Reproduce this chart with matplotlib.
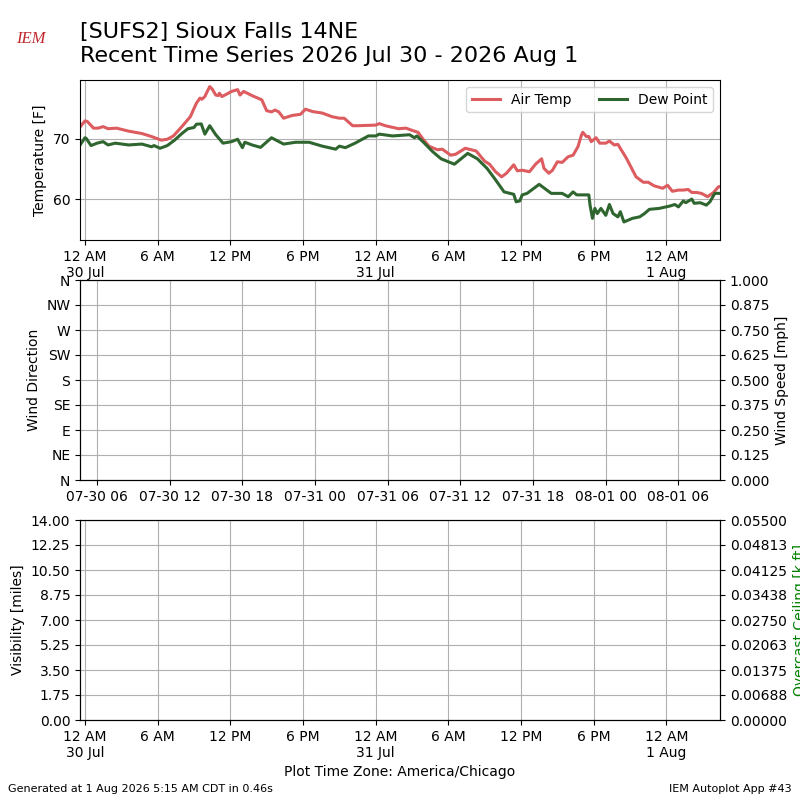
"""
Recent time series plot for station SUFS2 (Sioux Falls 14NE).
Three panels: temperature / dew point, wind, visibility + ceiling.
"""

import datetime
import matplotlib
matplotlib.use("Agg")
import matplotlib.pyplot as plt
import matplotlib.dates as mdates
from matplotlib.ticker import FuncFormatter, FormatStrFormatter

# Observations, hours since 2026-07-30 00:00 local time
air_hours = [-0.4, 0.0, 0.2, 0.7, 1.1, 1.5, 1.9, 2.6, 3.6, 4.7, 5.5, 6.3, 6.8,
             7.3, 8.0, 8.7, 9.2, 9.5, 9.65, 9.9, 10.1, 10.3, 10.5, 10.8, 11.0,
             11.1, 11.3, 11.7, 12.1, 12.6, 12.8, 13.1, 13.8, 14.6, 15.0, 15.4,
             15.7, 16.0, 16.4, 17.1, 17.8, 18.2, 18.8, 19.6, 20.4, 21.0, 21.4,
             22.1, 22.5, 24.0, 24.3, 24.8, 25.9, 26.5, 26.9, 27.5, 27.9, 28.4,
             29.1, 29.5, 30.2, 30.6, 31.4, 32.3, 33.0, 33.4, 33.9, 34.4, 34.8,
             35.4, 35.7, 36.1, 36.7, 37.2, 37.7, 37.9, 38.3, 38.6, 39.0, 39.4,
             39.9, 40.3, 40.7, 41.0, 41.1, 41.4, 41.6, 41.8, 42.2, 42.5, 43.0,
             43.3, 43.7, 44.0, 44.7, 45.5, 46.1, 46.5, 47.0, 47.7, 48.1, 48.5,
             49.0, 49.4, 49.8, 50.1, 50.5, 50.9, 51.4, 51.9, 52.3, 52.5]
air_temp = [72.0, 73.0, 72.9, 71.8, 71.8, 72.05, 71.7, 71.8, 71.3, 70.9, 70.4,
            69.8, 69.95, 70.5, 72.05, 73.7, 75.95, 76.8, 76.6, 77.05, 77.9,
            78.7, 78.3, 77.3, 77.2, 77.6, 77.05, 77.45, 77.9, 78.2, 77.3, 77.9,
            77.2, 76.5, 74.7, 74.5, 74.8, 74.5, 73.45, 73.9, 74.1, 74.95, 74.55,
            74.3, 73.7, 73.45, 73.45, 72.2, 72.2, 72.3, 72.55, 72.2, 71.7, 71.8,
            71.5, 71.1, 70.0, 68.8, 68.2, 68.3, 67.3, 67.45, 68.45, 68.0, 66.3,
            65.8, 64.55, 63.7, 64.3, 65.7, 64.7, 64.8, 64.55, 65.8, 66.7, 65.1,
            64.3, 64.8, 66.2, 66.1, 67.05, 67.3, 68.7, 70.7, 71.1, 70.4, 70.4,
            69.55, 70.2, 69.3, 69.3, 69.65, 69.0, 69.1, 66.8, 63.7, 62.8, 62.8,
            62.2, 61.8, 62.3, 61.3, 61.5, 61.5, 61.6, 61.1, 61.1, 60.95, 60.4,
            61.1, 62.05, 62.1]

dew_hours = [-0.4, 0.0, 0.1, 0.5, 1.0, 1.5, 1.9, 2.5, 3.6, 4.7, 5.5, 5.7, 6.2,
             6.8, 7.4, 8.0, 8.5, 9.0, 9.2, 9.6, 9.9, 10.3, 10.8, 11.4, 12.1,
             12.6, 13.0, 13.2, 13.8, 14.5, 15.4, 16.4, 17.4, 18.5, 19.6, 20.7,
             21.0, 21.5, 22.3, 23.4, 24.0, 24.3, 25.4, 26.8, 27.2, 27.4, 27.9,
             28.7, 29.4, 30.5, 31.6, 32.4, 33.2, 33.9, 34.6, 35.4, 35.6, 35.9,
             36.1, 36.5, 37.5, 38.5, 39.4, 39.9, 40.3, 40.6, 41.6, 41.7, 41.9,
             42.1, 42.3, 42.6, 43.0, 43.3, 43.6, 44.0, 44.2, 44.5, 45.2, 45.8,
             46.2, 46.6, 47.4, 48.3, 48.7, 49.0, 49.4, 49.6, 50.1, 50.3, 50.8,
             51.3, 51.6, 52.0, 52.5]
dew_point = [69.0, 70.2, 70.1, 68.9, 69.3, 69.55, 69.0, 69.3, 69.0, 69.15,
             68.7, 68.9, 68.45, 68.9, 69.8, 70.9, 71.7, 71.9, 72.45, 72.5, 70.8,
             72.2, 70.7, 69.3, 69.55, 69.95, 68.55, 69.45, 69.0, 68.6, 70.2,
             69.15, 69.45, 69.45, 68.8, 68.3, 68.8, 68.55, 69.3, 70.5, 70.5,
             70.8, 70.5, 70.7, 70.2, 70.5, 69.55, 67.9, 66.7, 65.8, 67.6, 66.7,
             65.1, 63.2, 61.2, 60.8, 59.55, 59.7, 60.7, 60.95, 62.45, 60.95,
             60.95, 60.4, 61.2, 60.7, 60.7, 59.0, 56.8, 58.45, 57.6, 58.45, 57.3,
             59.1, 57.6, 57.05, 57.9, 56.2, 56.8, 57.05, 57.6, 58.3, 58.45,
             58.85, 59.1, 58.7, 59.7, 59.4, 60.0, 59.3, 59.4, 59.0, 59.55, 60.95,
             60.95]

dir_labels = ["N", "NE", "E", "SE", "S", "SW", "W", "NW", "N"]

base = datetime.datetime(2026, 7, 30)
utc_offset = datetime.timedelta(hours=5)
xmin = base + datetime.timedelta(hours=-0.41)
xmax = base + datetime.timedelta(hours=52.43)

air_times = [base + datetime.timedelta(hours=h) for h in air_hours]
dew_times = [base + datetime.timedelta(hours=h) for h in dew_hours]


def local_fmt(x, pos=None):
    dt = mdates.num2date(x)
    if dt.hour == 0:
        return dt.strftime("%-I %p\n%-d %b")
    return dt.strftime("%-I %p")


fig = plt.figure(figsize=(8, 8), dpi=100)

fig.text(0.1, 0.918, "[SUFS2] Sioux Falls 14NE\nRecent Time Series 2026 Jul 30 - 2026 Aug 1",
         fontsize=16, va="bottom", ha="left")
fig.text(0.039, 0.951, "IEM", color="#c0282d", fontsize=12, style="italic",
         family="Liberation Serif", ha="center", va="center")
fig.text(0.01, 0.01, "Generated at 1 Aug 2026 5:15 AM CDT in 0.46s", fontsize=8)
fig.text(0.99, 0.01, "IEM Autoplot App #43", fontsize=8, ha="right")

# Panel 1: temperature
ax1 = fig.add_axes([0.1, 0.7, 0.8, 0.2])
ax1.plot(air_times, air_temp, color="#dc5c60", lw=2.2, label="Air Temp")
ax1.plot(dew_times, dew_point, color="#2f6630", lw=2.2, label="Dew Point")
ax1.set_ylabel("Temperature [F]")
ax1.set_ylim(53.2, 79.8)
ax1.set_xlim(xmin, xmax)
ax1.xaxis.set_major_locator(mdates.HourLocator(byhour=[0, 6, 12, 18]))
ax1.xaxis.set_major_formatter(FuncFormatter(local_fmt))
ax1.grid(True)
ax1.legend(loc="upper right", ncol=2)

# Panel 2: wind (no observations)
ax2 = fig.add_axes([0.1, 0.4, 0.8, 0.25])
ax2.set_xlim(xmin + utc_offset, xmax + utc_offset)
ax2.xaxis.set_major_locator(mdates.HourLocator(byhour=[0, 6, 12, 18]))
ax2.xaxis.set_major_formatter(mdates.DateFormatter("%m-%d %H"))
ax2.set_ylim(0, 360)
ax2.set_yticks(range(0, 361, 45))
ax2.set_yticklabels(dir_labels)
ax2.set_ylabel("Wind Direction")
ax2.grid(True)
ax2b = ax2.twinx()
ax2b.set_ylim(0, 1)
ax2b.set_yticks([i * 0.125 for i in range(9)])
ax2b.yaxis.set_major_formatter(FormatStrFormatter("%.3f"))
ax2b.set_ylabel("Wind Speed [mph]")

# Panel 3: visibility / ceiling (no observations)
ax3 = fig.add_axes([0.1, 0.1, 0.8, 0.25])
ax3.set_xlim(xmin, xmax)
ax3.xaxis.set_major_locator(mdates.HourLocator(byhour=[0, 6, 12, 18]))
ax3.xaxis.set_major_formatter(FuncFormatter(local_fmt))
ax3.set_ylim(0, 14)
ax3.set_yticks([i * 1.75 for i in range(9)])
ax3.yaxis.set_major_formatter(FormatStrFormatter("%.2f"))
ax3.set_ylabel("Visibility [miles]")
ax3.set_xlabel("Plot Time Zone: America/Chicago")
ax3.grid(True)
ax3b = ax3.twinx()
ax3b.set_ylim(0, 0.055)
ax3b.set_yticks([i * 0.055 / 8 for i in range(9)])
ax3b.yaxis.set_major_formatter(FormatStrFormatter("%.5f"))
ax3b.set_ylabel("Overcast Ceiling [k ft]", color="g")

fig.savefig("out.png", dpi=100)
